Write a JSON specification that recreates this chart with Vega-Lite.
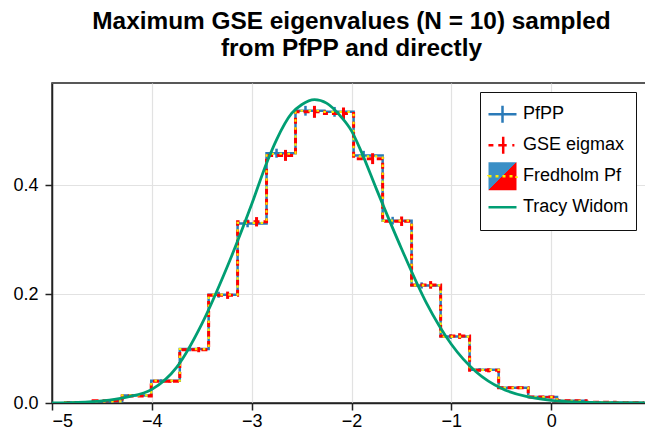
{
  "$schema": "https://vega.github.io/schema/vega-lite/v6.json",
  "width": 599,
  "height": 320,
  "autosize": {"type": "none"},
  "padding": {"left": 52, "top": 83, "right": -6, "bottom": 34},
  "background": "#ffffff",
  "title": {
    "text": ["Maximum GSE eigenvalues (N = 10) sampled", "from PfPP and directly"],
    "font": "Liberation Sans",
    "fontSize": 24.4,
    "fontWeight": "bold",
    "lineHeight": 27,
    "color": "#000000",
    "anchor": "middle",
    "offset": 22
  },
  "datasets": {
    "hist": [
      {"x": -4.878, "xb": -4.778, "xr": -4.688, "pf": 0.001, "gse": 0.001, "fh": 0.001, "pb_lo": 0.0006, "pb_hi": 0.0014, "gr_lo": 0.0005, "gr_hi": 0.0015},
      {"x": -4.588, "xb": -4.4875, "xr": -4.3975, "pf": 0.003, "gse": 0.004, "fh": 0.003, "pb_lo": 0.0023, "pb_hi": 0.0037, "gr_lo": 0.0031, "gr_hi": 0.0049},
      {"x": -4.297, "xb": -4.1965, "xr": -4.1065, "pf": 0.014, "gse": 0.013, "fh": 0.014, "pb_lo": 0.0125, "pb_hi": 0.0155, "gr_lo": 0.0112, "gr_hi": 0.0148},
      {"x": -4.006, "xb": -3.908, "xr": -3.818, "pf": 0.041, "gse": 0.040, "fh": 0.041, "pb_lo": 0.0385, "pb_hi": 0.0435, "gr_lo": 0.037, "gr_hi": 0.043},
      {"x": -3.72, "xb": -3.6205, "xr": -3.5305, "pf": 0.099, "gse": 0.098, "fh": 0.099, "pb_lo": 0.095, "pb_hi": 0.103, "gr_lo": 0.0933, "gr_hi": 0.1027},
      {"x": -3.431, "xb": -3.331, "xr": -3.241, "pf": 0.199, "gse": 0.198, "fh": 0.199, "pb_lo": 0.1935, "pb_hi": 0.2045, "gr_lo": 0.1913, "gr_hi": 0.2047},
      {"x": -3.141, "xb": -3.041, "xr": -2.951, "pf": 0.330, "gse": 0.333, "fh": 0.331, "pb_lo": 0.3229, "pb_hi": 0.3371, "gr_lo": 0.3244, "gr_hi": 0.3416},
      {"x": -2.851, "xb": -2.751, "xr": -2.661, "pf": 0.459, "gse": 0.455, "fh": 0.458, "pb_lo": 0.4507, "pb_hi": 0.4673, "gr_lo": 0.4449, "gr_hi": 0.4651},
      {"x": -2.561, "xb": -2.461, "xr": -2.371, "pf": 0.537, "gse": 0.535, "fh": 0.537, "pb_lo": 0.528, "pb_hi": 0.546, "gr_lo": 0.524, "gr_hi": 0.546},
      {"x": -2.271, "xb": -2.17, "xr": -2.08, "pf": 0.535, "gse": 0.532, "fh": 0.535, "pb_lo": 0.526, "pb_hi": 0.544, "gr_lo": 0.521, "gr_hi": 0.543},
      {"x": -1.979, "xb": -1.8785, "xr": -1.7885, "pf": 0.455, "gse": 0.449, "fh": 0.453, "pb_lo": 0.4467, "pb_hi": 0.4633, "gr_lo": 0.439, "gr_hi": 0.459},
      {"x": -1.688, "xb": -1.588, "xr": -1.498, "pf": 0.335, "gse": 0.334, "fh": 0.335, "pb_lo": 0.3279, "pb_hi": 0.3421, "gr_lo": 0.3253, "gr_hi": 0.3427},
      {"x": -1.398, "xb": -1.2975, "xr": -1.2075, "pf": 0.216, "gse": 0.217, "fh": 0.216, "pb_lo": 0.2103, "pb_hi": 0.2217, "gr_lo": 0.21, "gr_hi": 0.224},
      {"x": -1.107, "xb": -1.007, "xr": -0.917, "pf": 0.122, "gse": 0.123, "fh": 0.122, "pb_lo": 0.1177, "pb_hi": 0.1263, "gr_lo": 0.1178, "gr_hi": 0.1282},
      {"x": -0.817, "xb": -0.7165, "xr": -0.6265, "pf": 0.061, "gse": 0.060, "fh": 0.061, "pb_lo": 0.058, "pb_hi": 0.064, "gr_lo": 0.0563, "gr_hi": 0.0637},
      {"x": -0.526, "xb": -0.423, "xr": -0.333, "pf": 0.028, "gse": 0.028, "fh": 0.028, "pb_lo": 0.0259, "pb_hi": 0.0301, "gr_lo": 0.0255, "gr_hi": 0.0305},
      {"x": -0.23, "xb": -0.1305, "xr": -0.0405, "pf": 0.011, "gse": 0.011, "fh": 0.011, "pb_lo": 0.0097, "pb_hi": 0.0123, "gr_lo": 0.0094, "gr_hi": 0.0126},
      {"x": 0.059, "xb": 0.1595, "xr": 0.2495, "pf": 0.004, "gse": 0.004, "fh": 0.004, "pb_lo": 0.0032, "pb_hi": 0.0048, "gr_lo": 0.0031, "gr_hi": 0.0049},
      {"x": 0.35, "xb": 0.4505, "xr": 0.5405, "pf": 0.001, "gse": 0.0012, "fh": 0.001, "pb_lo": 0.0006, "pb_hi": 0.0014, "gr_lo": 0.0007, "gr_hi": 0.0017},
      {"x": 0.641, "xb": 0.7415, "xr": 0.8315, "pf": 0.0003, "gse": 0.0004, "fh": 0.0003, "pb_lo": 0.0001, "pb_hi": 0.0005, "gr_lo": 0.0001, "gr_hi": 0.0007},
      {"x": 0.932, "pf": 0.0003, "gse": 0.0004, "fh": 0.0003}
    ],
    "tw": [
      {"x": -5.0, "y": 0.0003},
      {"x": -4.75, "y": 0.0012},
      {"x": -4.5, "y": 0.004},
      {"x": -4.25, "y": 0.011},
      {"x": -4.0, "y": 0.025},
      {"x": -3.75, "y": 0.066},
      {"x": -3.5, "y": 0.145},
      {"x": -3.25, "y": 0.248},
      {"x": -3.0, "y": 0.365},
      {"x": -2.85, "y": 0.441},
      {"x": -2.75, "y": 0.484},
      {"x": -2.6, "y": 0.532},
      {"x": -2.5, "y": 0.548},
      {"x": -2.37, "y": 0.5575},
      {"x": -2.25, "y": 0.551},
      {"x": -2.1, "y": 0.525},
      {"x": -2.0, "y": 0.5},
      {"x": -1.9, "y": 0.461},
      {"x": -1.75, "y": 0.393},
      {"x": -1.5, "y": 0.284},
      {"x": -1.25, "y": 0.184},
      {"x": -1.0, "y": 0.108},
      {"x": -0.75, "y": 0.057},
      {"x": -0.5, "y": 0.027},
      {"x": -0.25, "y": 0.012},
      {"x": 0.0, "y": 0.005},
      {"x": 0.25, "y": 0.002},
      {"x": 0.5, "y": 0.0008},
      {"x": 1.0, "y": 0.0002}
    ]
  },
  "layer": [
    {
      "data": {"name": "hist"},
      "mark": {"type": "line", "interpolate": "step-after", "strokeWidth": 2.5, "clip": true},
      "encoding": {
        "x": {"field": "x", "type": "quantitative",
          "scale": {"domain": [-5, 1], "nice": false, "zero": false},
          "axis": {"values": [-5, -4, -3, -2, -1, 0], "format": "d", "labelPadding": 2, "title": null}},
        "y": {"field": "pf", "type": "quantitative",
          "scale": {"domain": [0, 0.588], "nice": false},
          "axis": {"values": [0, 0.2, 0.4], "format": ".1f", "labelPadding": 7, "title": null}},
        "color": {"datum": "PfPP", "type": "nominal",
          "scale": {"domain": ["PfPP", "GSE eigmax", "Fredholm Pf", "Tracy Widom"],
                    "range": ["#2a7ab8", "#ff0000",
                      {"expr": "{gradient: 'linear', x1: 0, y1: 0, x2: 0, y2: 1, stops: [{offset: 0, color: 'rgba(255,238,0,0)'}, {offset: 0.44, color: 'rgba(255,238,0,0)'}, {offset: 0.44, color: '#ffee00'}, {offset: 0.56, color: '#ffee00'}, {offset: 0.56, color: 'rgba(255,238,0,0)'}, {offset: 1, color: 'rgba(255,238,0,0)'}]}"},
                      "#009e73"]},
          "legend": {
            "title": null,
            "orient": "none",
            "legendX": 428,
            "legendY": 9,
            "padding": 7,
            "rowPadding": 0,
            "clipHeight": 30.5,
            "gridAlign": "all",
            "labelOffset": 5,
            "labelFont": "Liberation Sans",
            "labelFontSize": 18,
            "labelColor": "#000000",
            "strokeColor": "#111111",
            "fillColor": "#ffffff",
            "symbolSize": 784,
            "symbolOpacity": 1,
            "symbolStrokeWidth": 2.5,
            "symbolType": {"expr": "datum.value === 'PfPP' ? 'M-1,0H1M0,-0.6V0.6' : datum.value === 'GSE eigmax' ? 'M-1,0H-0.65M-0.3,0H0.3M0.05,-0.6V0.6M0.7,0H0.85' : datum.value === 'Fredholm Pf' ? 'M-1,-1H1V1H-1ZM-1,0H1' : 'M-1,0H1'"},
            "symbolFillColor": {"expr": "datum.value === 'Fredholm Pf' ? {gradient: 'linear', x1: 0, y1: 0, x2: 1, y2: 1, stops: [{offset: 0, color: '#3a8fc6'}, {offset: 0.5, color: '#3a8fc6'}, {offset: 0.5, color: '#ff0000'}, {offset: 1, color: '#ff0000'}]} : 'transparent'"},
            "symbolDash": {"expr": "datum.value === 'Fredholm Pf' ? [3, 4] : [1, 0]"}
          }
        }
      }
    },
    {
      "data": {"name": "hist"},
      "transform": [{"filter": "isValid(datum.xb)"}],
      "mark": {"type": "rule", "strokeWidth": 2.5},
      "encoding": {
        "x": {"field": "xb", "type": "quantitative"},
        "y": {"field": "pb_lo", "type": "quantitative"},
        "y2": {"field": "pb_hi"},
        "color": {"datum": "PfPP", "type": "nominal"}
      }
    },
    {
      "data": {"name": "hist"},
      "mark": {"type": "line", "interpolate": "step-after", "strokeWidth": 3, "strokeDash": [6, 4], "clip": true},
      "encoding": {
        "x": {"field": "x", "type": "quantitative"},
        "y": {"field": "gse", "type": "quantitative"},
        "color": {"datum": "GSE eigmax", "type": "nominal"}
      }
    },
    {
      "data": {"name": "hist"},
      "transform": [{"filter": "isValid(datum.xr)"}],
      "mark": {"type": "rule", "strokeWidth": 3},
      "encoding": {
        "x": {"field": "xr", "type": "quantitative"},
        "y": {"field": "gr_lo", "type": "quantitative"},
        "y2": {"field": "gr_hi"},
        "color": {"datum": "GSE eigmax", "type": "nominal"}
      }
    },
    {
      "data": {"name": "hist"},
      "mark": {"type": "line", "interpolate": "step-after", "strokeWidth": 2.2, "strokeDash": [2.5, 5.5], "color": "#ffee00", "clip": true},
      "encoding": {
        "x": {"field": "x", "type": "quantitative"},
        "y": {"field": "fh", "type": "quantitative"}
      }
    },
    {
      "data": {"name": "tw"},
      "mark": {"type": "line", "interpolate": "monotone", "strokeWidth": 2.8, "clip": true},
      "encoding": {
        "x": {"field": "x", "type": "quantitative"},
        "y": {"field": "y", "type": "quantitative"},
        "color": {"datum": "Tracy Widom", "type": "nominal"}
      }
    }
  ],
  "config": {
    "view": {"stroke": "#222222", "strokeWidth": 1.5},
    "legend": {"symbolSize": 784},
    "axis": {
      "labelFont": "Liberation Sans",
      "labelFontSize": 18,
      "labelColor": "#000000",
      "domainColor": "#222222",
      "domainWidth": 1.5,
      "tickColor": "#222222",
      "tickWidth": 1.5,
      "tickSize": 7,
      "gridColor": "#e2e2e2",
      "gridWidth": 1.2
    }
  }
}
